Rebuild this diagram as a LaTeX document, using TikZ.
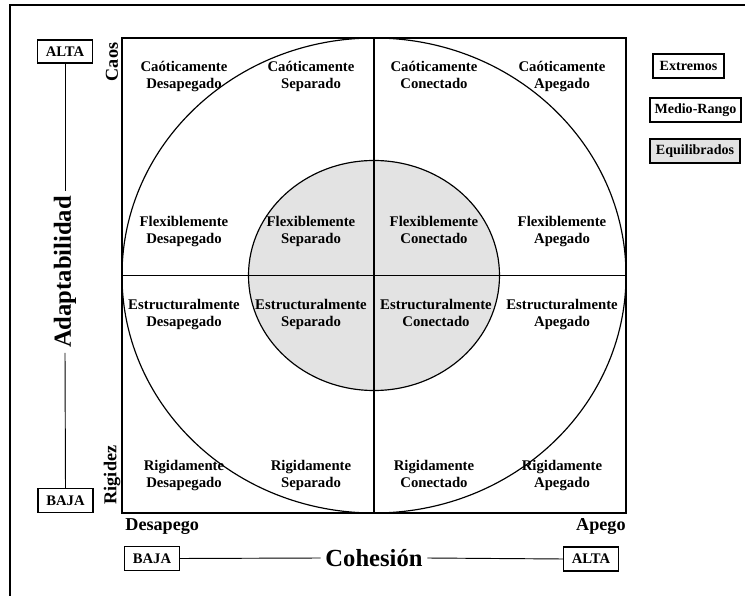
\documentclass[tikz,border=0pt]{standalone}
\usepackage{fontspec}
\setmainfont{Liberation Serif}

\tikzset{
  cell/.style={align=center, anchor=north, font=\fontsize{12.6}{14.5}\selectfont\bfseries, inner sep=1pt},
  levelbox/.style={draw, line width=1pt, font=\fontsize{12.5}{14}\selectfont\bfseries, minimum width=1.65cm, minimum height=0.72cm, inner sep=0pt},
  keybox/.style={draw, line width=1pt, font=\fontsize{12}{14}\selectfont\bfseries, minimum height=0.72cm, inner sep=2pt},
  axisname/.style={font=\fontsize{21}{24}\selectfont\bfseries, inner sep=4pt},
  polename/.style={font=\fontsize{15.5}{18}\selectfont\bfseries, inner sep=1pt},
}

\begin{document}
\begin{tikzpicture}[x=0.03cm, y=-0.03cm]
        \useasboundingbox (0,0) rectangle (745,596);
        \draw[line width=1.2pt](10,596)--(10,5)--(745,5);

        \node[draw, line width=1.4pt, minimum width=15.12cm, minimum height=14.25cm, inner sep=0pt] (grid) at (374,275.5) {};
        \draw[line width=1pt](grid.center) ellipse [x radius=7.56cm, y radius=7.125cm];
        \draw[line width=1pt, fill=gray!22](grid.center) ellipse [x radius=3.765cm, y radius=3.45cm];
        \draw[line width=1pt](grid.north)--(grid.south);
        \draw[line width=1pt](grid.west)--(grid.east);

        \node[cell] (cdes) at (184,60) {Caóticamente\\Desapegado};
        \node[cell] (csep) at (311,60) {Caóticamente\\Separado};
        \node[cell] (ccon) at (434,60) {Caóticamente\\Conectado};
        \node[cell] (cape) at (562,60) {Caóticamente\\Apegado};

        \node[cell] (fdes) at (184,215) {Flexiblemente\\Desapegado};
        \node[cell] (fsep) at (311,215) {Flexiblemente\\Separado};
        \node[cell] (fcon) at (434,215) {Flexiblemente\\Conectado};
        \node[cell] (fape) at (562,215) {Flexiblemente\\Apegado};

        \node[cell] (edes) at (184,298) {Estructuralmente\\Desapegado};
        \node[cell] (esep) at (311,298) {Estructuralmente\\Separado};
        \node[cell] (econ) at (436,298) {Estructuralmente\\Conectado};
        \node[cell] (eape) at (562,298) {Estructuralmente\\Apegado};

        \node[cell] (rdes) at (184,459) {Rigidamente\\Desapegado};
        \node[cell] (rsep) at (311,459) {Rigidamente\\Separado};
        \node[cell] (rcon) at (434,459) {Rigidamente\\Conectado};
        \node[cell] (rape) at (562,459) {Rigidamente\\Apegado};

        \node[polename, rotate=90] (caos) at (112,62) {Caos};
        \node[polename, rotate=90] (rigidez) at (112,475) {Rigidez};
        \node[polename, anchor=west] (desap) at (124,527) {Desapego};
        \node[polename, anchor=east] (apego) at (627,527) {Apego};

        \node[levelbox, minimum height=0.69cm] (altaA) at (65,51.5) {ALTA};
        \node[levelbox] (bajaA) at (65.5,500.5) {BAJA};
        \node[axisname, rotate=90] (adapt) at (65,272) {Adaptabilidad};
        \draw[line width=0.8pt](altaA.south)--(adapt.east);
        \draw[line width=0.8pt](adapt.west)--(bajaA.north);

        \node[levelbox] (bajaC) at (152,558.5) {BAJA};
        \node[levelbox] (altaC) at (591,559) {ALTA};
        \node[axisname] (cohes) at (374,558) {Cohesión};
        \draw[line width=0.8pt](bajaC.east)--(cohes.west);
        \draw[line width=0.8pt](cohes.east)--(altaC.west);

        \node[keybox, minimum width=2.13cm] (extremos) at (688.5,66) {Extremos};
        \node[keybox, minimum width=2.73cm] (medio) at (695.5,110) {Medio-Rango};
        \node[keybox, minimum width=2.7cm, fill=gray!22] (equil) at (695,151) {Equilibrados};
    \end{tikzpicture}
\end{document}
